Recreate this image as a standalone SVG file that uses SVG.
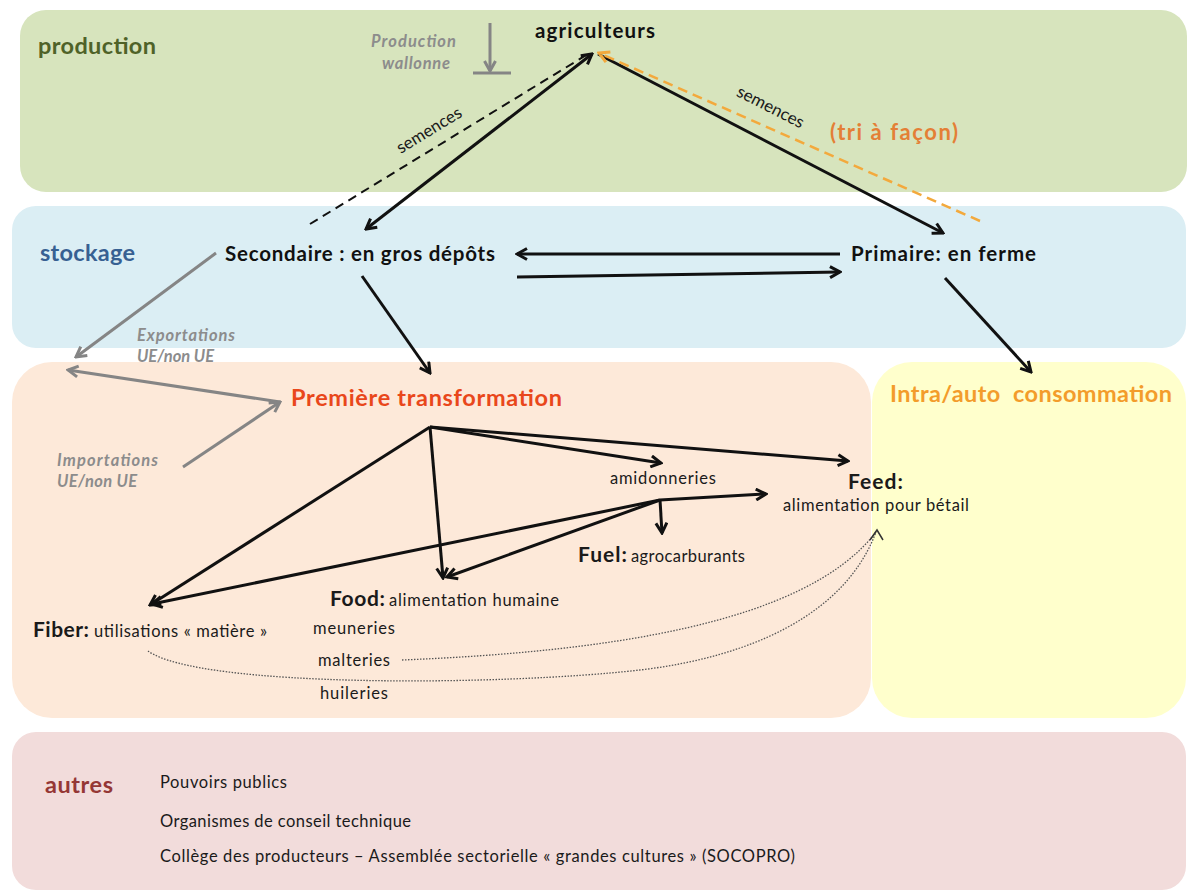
<svg xmlns="http://www.w3.org/2000/svg" width="1189" height="892" viewBox="0 0 1189 892">
<style>
text{font-family:Lato,"Liberation Sans",sans-serif;fill:#1a1a1a}
.title{font-size:23.5px;font-weight:bold}
.node{font-size:20.5px;font-weight:bold;fill:#111}
.lbl{font-size:16.5px}
.big{font-size:21px;font-weight:bold}
.grey{font-size:16.5px;font-weight:bold;font-style:italic;fill:#8c8c8c}
.blk{stroke:#111;stroke-width:3;fill:none}
.gry{stroke:#858585;stroke-width:3;fill:none}
</style>
<defs>
<marker id="ab" viewBox="0 0 14 14" refX="12" refY="7" markerWidth="14" markerHeight="14" markerUnits="userSpaceOnUse" orient="auto-start-reverse">
<path d="M2,1.5 L12,7 L2,12.5" fill="none" stroke="#111" stroke-width="3"/>
</marker>
<marker id="ag" viewBox="0 0 14 14" refX="12" refY="7" markerWidth="14" markerHeight="14" markerUnits="userSpaceOnUse" orient="auto-start-reverse">
<path d="M2,1.5 L12,7 L2,12.5" fill="none" stroke="#858585" stroke-width="3"/>
</marker>
<marker id="ao" viewBox="0 0 14 14" refX="12" refY="7" markerWidth="14" markerHeight="14" markerUnits="userSpaceOnUse" orient="auto-start-reverse">
<path d="M2,1.5 L12,7 L2,12.5" fill="none" stroke="#f3a93c" stroke-width="3"/>
</marker>
</defs>
<rect width="1189" height="892" fill="#ffffff"/>
<g id="bands">
<rect x="20" y="10" width="1167" height="182" rx="26" fill="#d7e4bd"/>
<rect x="12" y="206" width="1174" height="142" rx="24" fill="#dbeef4"/>
<rect x="12" y="362" width="859" height="356" rx="40" fill="#fde9d9"/>
<rect x="872" y="362" width="314" height="356" rx="40" fill="#ffffcc"/>
<rect x="12" y="732" width="1174" height="158" rx="24" fill="#f2dcdb"/>
</g>
<g id="production">
<text x="38" y="54" class="title" style="fill:#4f6228" textLength="118">production</text>
</g>
<g id="production-wallonne">
<text x="371" y="47" class="grey" textLength="85">Production</text>
<text x="382" y="69" class="grey" textLength="68">wallonne</text>
</g>
<g id="agriculteurs">
<text x="535" y="38" class="node" textLength="120">agriculteurs</text>
</g>
<g id="tri">
<text x="830" y="140" class="node" style="fill:#e47f36;font-size:22px" textLength="128">(tri à façon)</text>
</g>
<g id="stockage">
<text x="40" y="261" class="title" style="fill:#376092" textLength="95">stockage</text>
</g>
<g id="secondaire">
<text x="225" y="261" class="node" textLength="270">Secondaire : en gros dépôts</text>
</g>
<g id="primaire">
<text x="851" y="261" class="node" textLength="185">Primaire: en ferme</text>
</g>
<g id="exportations">
<text x="137" y="341" class="grey" textLength="98">Exportations</text>
<text x="137" y="362" class="grey" textLength="77">UE/non UE</text>
</g>
<g id="importations">
<text x="57" y="466" class="grey" textLength="101">Importations</text>
<text x="57" y="487" class="grey" textLength="80">UE/non UE</text>
</g>
<g id="premiere-transformation">
<text x="291" y="406" class="title" style="fill:#e9471b" textLength="271">Première transformation</text>
</g>
<g id="intra-auto">
<text x="890" y="402" class="title" style="fill:#f39c2b" textLength="282" xml:space="preserve">Intra/auto  consommation</text>
</g>
<g id="amidonneries">
<text x="610" y="484" class="lbl" textLength="106">amidonneries</text>
</g>
<g id="feed">
<text x="848" y="489" class="big" textLength="55">Feed:</text>
<text x="783" y="511" class="lbl" textLength="186">alimentation pour bétail</text>
</g>
<g id="fuel">
<text x="578" y="562" class="big" textLength="49">Fuel:</text>
<text x="631" y="562" class="lbl" textLength="114">agrocarburants</text>
</g>
<g id="food">
<text x="330" y="606" class="big" textLength="55">Food:</text>
<text x="389" y="606" class="lbl" textLength="170">alimentation humaine</text>
<text x="313" y="634" class="lbl" textLength="82">meuneries</text>
<text x="318" y="666" class="lbl" textLength="72">malteries</text>
<text x="320" y="699" class="lbl" textLength="68">huileries</text>
</g>
<g id="fiber">
<text x="33" y="637" class="big" textLength="56">Fiber:</text>
<text x="94" y="637" class="lbl" textLength="173">utilisations « matière »</text>
</g>
<g id="autres">
<text x="45" y="793" class="title" style="fill:#953735" textLength="68">autres</text>
<text x="160" y="788" class="lbl" textLength="127">Pouvoirs publics</text>
<text x="160" y="827" class="lbl" textLength="251">Organismes de conseil technique</text>
<text x="160" y="862" class="lbl" textLength="635">Collège des producteurs – Assemblée sectorielle « grandes cultures » (SOCOPRO)</text>
</g>
<g id="connectors">
<path d="M490,23 L490,71" class="gry" stroke-width="2.5" marker-end="url(#ag)"/>
<path d="M473,73 L511,73" class="gry" stroke-width="2.5"/>
<path d="M310,224 L588,54" stroke="#111" stroke-width="2" stroke-dasharray="9 6" fill="none"/>
<path d="M366,229 L592,54" class="blk" marker-start="url(#ab)" marker-end="url(#ab)"/>
<path d="M598,54 L943,233" class="blk" marker-end="url(#ab)"/>
<path d="M980,221 L599,53" stroke="#f3a93c" stroke-width="2.5" stroke-dasharray="10 6" fill="none" marker-end="url(#ao)"/>
<text x="0" y="0" class="lbl" style="font-size:17px" transform="translate(432,135) rotate(-31.5)" text-anchor="middle">semences</text>
<text x="0" y="0" class="lbl" style="font-size:17px" transform="translate(768,112) rotate(27)" text-anchor="middle">semences</text>
<path d="M840,254 L517,254" class="blk" marker-end="url(#ab)"/>
<path d="M517,277 L840,272" class="blk" marker-end="url(#ab)"/>
<path d="M362,276 L430,373" class="blk" marker-end="url(#ab)"/>
<path d="M945,278 L1031,372" class="blk" marker-end="url(#ab)"/>
<path d="M216,253 L76,357" class="gry" marker-end="url(#ag)"/>
<path d="M280,402 L68,370" class="gry" marker-end="url(#ag)"/>
<path d="M183,467 L280,402" class="gry" marker-end="url(#ag)"/>
<path d="M430,427 L150,605" class="blk" marker-end="url(#ab)"/>
<path d="M430,427 L443,578" class="blk" marker-end="url(#ab)"/>
<path d="M430,427 L661,463" class="blk" marker-end="url(#ab)"/>
<path d="M430,427 L848,461" class="blk" marker-end="url(#ab)"/>
<path d="M660,500 L766,494" class="blk" marker-end="url(#ab)"/>
<path d="M660,500 L662,533" class="blk" marker-end="url(#ab)"/>
<path d="M660,500 L152,604" class="blk" marker-end="url(#ab)"/>
<path d="M660,500 L447,577" class="blk" marker-end="url(#ab)"/>
<path d="M148,651 C200,688 500,686 640,670 C750,657 845,615 876,532" stroke="#555" stroke-width="1.3" stroke-dasharray="1.5 1.5" fill="none"/>
<path d="M402,660 C600,652 805,625 876,532" stroke="#555" stroke-width="1.3" stroke-dasharray="1.5 1.5" fill="none"/>
<path d="M870,540 L877,530 L883,540" stroke="#333" stroke-width="1.5" fill="none"/>
</g>
</svg>
